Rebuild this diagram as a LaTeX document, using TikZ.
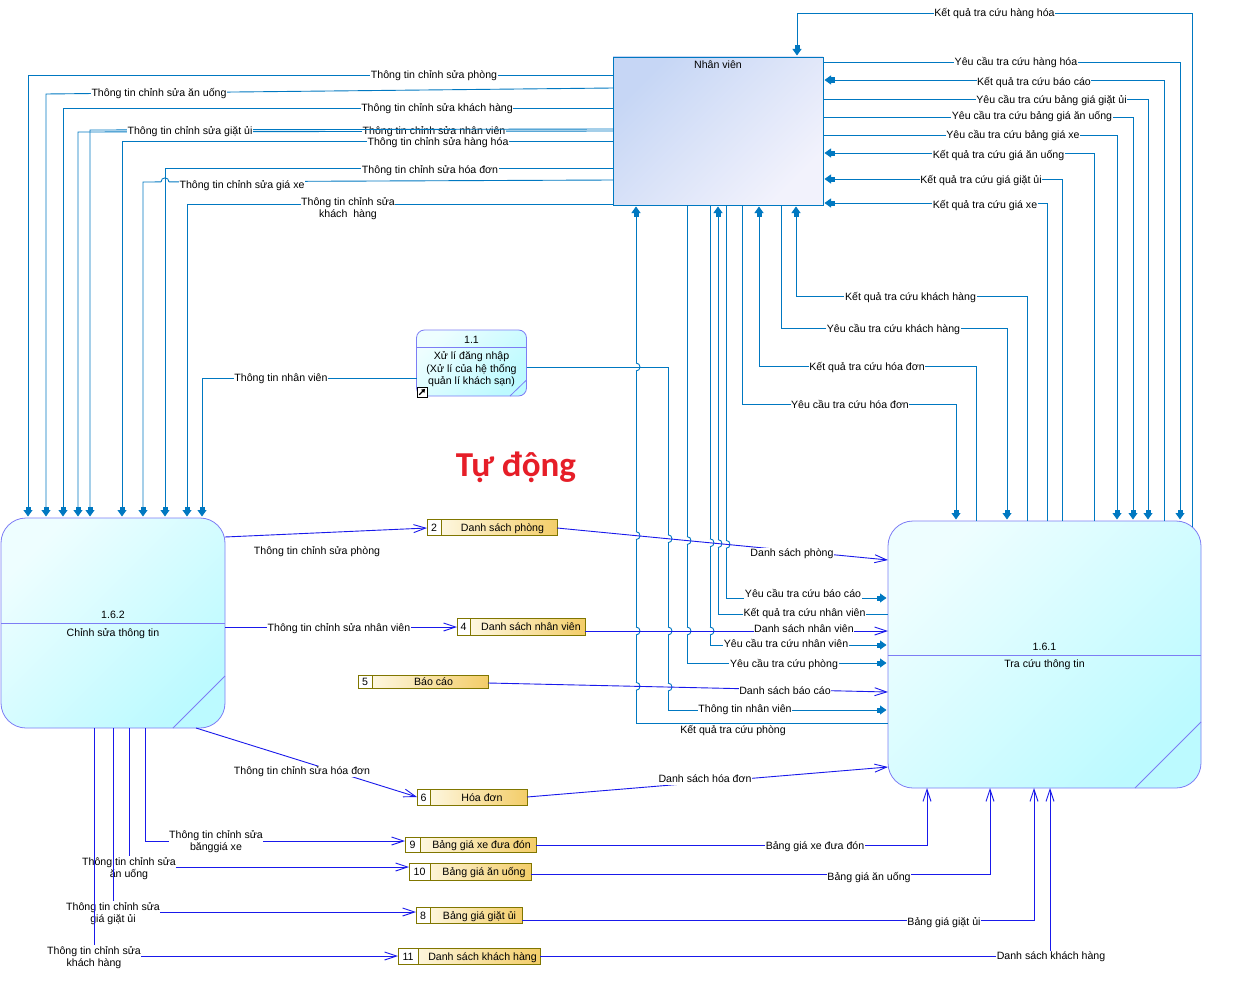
\documentclass[tikz,border=0pt]{standalone}
\usepackage{fontspec}
\setmainfont{Liberation Sans}
\newfontfamily\carlito{Carlito}
\usetikzlibrary{arrows.meta,calc}
\definecolor{tealc}{RGB}{0,120,193}
\definecolor{bluec}{RGB}{25,25,235}
\definecolor{procb}{RGB}{125,125,245}
\definecolor{pc1}{RGB}{238,254,255}
\definecolor{pc2}{RGB}{188,250,255}
\definecolor{nvc1}{RGB}{198,214,245}
\definecolor{nvc2}{RGB}{242,242,252}
\definecolor{storeb}{RGB}{128,118,0}
\definecolor{sc1}{RGB}{255,252,238}
\definecolor{sc2}{RGB}{243,205,105}
\definecolor{redt}{RGB}{230,30,40}
\newcommand{\lblfont}{\fontsize{10.6}{12.4}\selectfont}
\newcommand{\mystore}[8]{%
  \node[store, minimum width={#4-#2}, minimum height={#5-#3}] (#1) at ({(#2+#4)/2},{(#3+#5)/2}) {};
  \fill[white] (#2,#3) rectangle (#6,#5);
  \draw[storeb, line width=0.8pt] (#2,#3) rectangle (#4,#5) (#6,#3) -- (#6,#5);
  \node[txt] (#1n) at ({(#2+#6)/2},{(#3+#5)/2}) {#7};
  \node[txt] (#1t) at ({(#6+#4)/2+3.5},{(#3+#5)/2}) {#8};
}
\newcommand{\vbump}[2]{%
  \fill[white] ({#1-1.6},{#2-4}) rectangle ({#1+1.6},{#2+4});
  \draw[tl] (#1,{#2-4}) .. controls ({#1+5.3},{#2-4}) and ({#1+5.3},{#2+4}) .. (#1,{#2+4});
}
\newcommand{\hbump}[2]{%
  \fill[white] ({#1-4},{#2-1.6}) rectangle ({#1+4},{#2+1.6});
  \draw[tl] ({#1-4},#2) .. controls ({#1-4},{#2-5.3}) and ({#1+4},{#2-5.3}) .. ({#1+4},#2);
}
\begin{document}
\begin{tikzpicture}[x=1pt,y=-1pt,
  txt/.style={font=\lblfont, inner sep=0.6pt, text height=7.6pt, text depth=2.2pt, yshift=-1.3pt},
  lbl/.style={txt, fill=white},
  txt2/.style={font=\lblfont, inner sep=0.6pt, align=center, yshift=-1.3pt},
  lbl2/.style={txt2, fill=white},
  tl/.style={draw=tealc, line width=0.9pt},
  tla/.style={tl, shorten >=1.5pt, -{Rectangle[length=3.5pt,width=5pt]Triangle[length=6.5pt,width=9pt]}},
  bl/.style={draw=bluec, line width=0.9pt},
  bla/.style={bl, -{Straight Barb[length=12pt,width=8pt]}},
  proc/.style={rectangle, draw=procb, line width=0.8pt, top color=pc1, bottom color=pc2, shading angle=45, inner sep=0pt, outer sep=0pt},
  nvbox/.style={rectangle, draw=tealc, line width=0.9pt, top color=nvc1, bottom color=nvc2, shading angle=45, inner sep=0pt, outer sep=0pt},
  store/.style={rectangle, draw=storeb, line width=0.8pt, left color=sc1, right color=sc2, inner sep=0pt, outer sep=0pt},
  pline/.style={draw=procb, line width=0.8pt},
]
\useasboundingbox (0,0) rectangle (1243,998);
\fill[white] (0,0) rectangle (1243,998);

% ---------- boxes ----------
\node[nvbox, minimum width=210pt, minimum height=148pt] (nv) at (718,131) {};
\node[txt] (nvt) at (718,65) {Nhân viên};

\node[proc, rounded corners=25pt, minimum width=224pt, minimum height=210pt] (p162) at (113,623) {};
\draw[pline] (p162.west |- 0,623) -- (p162.east |- 0,623);
\draw[pline] (p162.south -| 173,0) -- (p162.east |- 0,676);
\node[txt] (p162n) at (113,614) {1.6.2};
\node[txt] (p162t) at (113,632) {Chỉnh sửa thông tin};

\node[proc, rounded corners=25pt, minimum width=313pt, minimum height=267pt] (p161) at (1044.5,654.5) {};
\draw[pline] (p161.west |- 0,655) -- (p161.east |- 0,655);
\draw[pline] (p161.south -| 1135,0) -- (p161.east |- 0,722);
\node[txt] (p161n) at (1044.5,646) {1.6.1};
\node[txt] (p161t) at (1044.5,663) {Tra cứu thông tin};

\node[proc, rounded corners=8pt, minimum width=110pt, minimum height=66pt] (p11) at (471.5,363) {};
\draw[pline] (p11.west |- 0,347) -- (p11.east |- 0,347);
\draw[pline] (p11.south -| 510,0) -- (p11.east |- 0,380);
\node[txt] (p11n) at (471.5,339) {1.1};
\node[txt2] (p11t) at (471.5,368) {Xử lí đăng nhập\\(Xử lí của hệ thống\\quản lí khách sạn)};
\node[draw=black, fill=white, line width=0.6pt, minimum size=10pt, inner sep=0pt] (sc) at (422,392) {};
\draw[line width=1.2pt, -{Triangle[length=3.5pt,width=4.5pt]}] ($(sc.south west)+(2.5,-2.5)$) -- ($(sc.north east)+(-2.2,2.2)$);

\mystore{s2}{427}{519}{557}{535}{441}{2}{Danh sách phòng}
\mystore{s4}{457}{618}{585}{635}{470}{4}{Danh sách nhân viên}
\mystore{s5}{358}{675}{488}{688}{372}{5}{Báo cáo}
\mystore{s6}{417}{789}{527}{805}{430}{6}{Hóa đơn}
\mystore{s9}{405}{837}{536}{852}{420}{9}{Bảng giá xe đưa đón}
\mystore{s10}{409}{863}{531}{880}{430}{10}{Bảng giá ăn uống}
\mystore{s8}{416}{907}{522}{923}{430}{8}{Bảng giá giặt ủi}
\mystore{s11}{398}{948}{540}{964}{418}{11}{Danh sách khách hàng}

\node[font=\carlito\bfseries\fontsize{35}{40}\selectfont, text=redt, inner sep=0pt] (auto) at (516,467) {Tự động};

% ---------- Nhan vien right side ----------
\draw[tla] (nv.east |- 0,62) -| (p161.north -| 1180,0);
\node[lbl] (l01) at (1016,62) {Yêu cầu tra cứu hàng hóa};
\draw[tla] (p161.north -| 1164,0) |- (nv.east |- 0,80);
\node[lbl] (l02) at (1034,81) {Kết quả tra cứu báo cáo};
\draw[tla] (nv.east |- 0,99) -| (p161.north -| 1148,0);
\node[lbl] (l03) at (1051.5,99) {Yêu cầu tra cứu bảng giá giặt ủi};
\draw[tla] (nv.east |- 0,117) -| (p161.north -| 1133,0);
\node[lbl] (l04) at (1032,116) {Yêu cầu tra cứu bảng giá ăn uống};
\draw[tla] (nv.east |- 0,135) -| (p161.north -| 1117,0);
\node[lbl] (l05) at (1013,135) {Yêu cầu tra cứu bảng giá xe};
\draw[tla] (p161.north -| 1094,0) |- (nv.east |- 0,153);
\node[lbl] (l06) at (998.5,154) {Kết quả tra cứu giá ăn uống};
\draw[tla] (p161.north -| 1062,0) |- (nv.east |- 0,179);
\node[lbl] (l07) at (981,179) {Kết quả tra cứu giá giặt ủi};
\draw[tla] (p161.north -| 1047,0) |- (nv.east |- 0,203);
\node[lbl] (l08) at (985,204) {Kết quả tra cứu giá xe};
\coordinate (hhs) at (1192,527);
\draw[tla] (hhs) |- (797,13) -- (nv.north -| 797,0);
\node[lbl] (l09) at (994.5,13) {Kết quả tra cứu hàng hóa};

% ---------- Nhan vien bottom ----------
\draw[tla] (nv.south -| 742,0) -- (742,404) -| (p161.north -| 956,0);
\node[lbl] (l10) at (850,404) {Yêu cầu tra cứu hóa đơn};
\draw[tla] (p161.north -| 976,0) -- (976,366) -| (nv.south -| 759,0);
\node[lbl] (l11) at (867,366) {Kết quả tra cứu hóa đơn};
\draw[tla] (nv.south -| 781,0) -- (781,328) -| (p161.north -| 1007,0);
\node[lbl] (l12) at (893.5,328) {Yêu cầu tra cứu khách hàng};
\draw[tla] (p161.north -| 1027,0) -- (1027,296) -| (nv.south -| 796,0);
\node[lbl] (l13) at (910.5,296) {Kết quả tra cứu khách hàng};

\draw[tla] (p161.west |- 0,723) -| (nv.south -| 636,0);
\vbump{636}{367}
\draw[tla] (p11.east |- 0,367) -| (668,710) -- (p161.west |- 0,710);
\draw[tla] (nv.south -| 687,0) |- (p161.west |- 0,663);
\draw[tla] (nv.south -| 710,0) |- (p161.west |- 0,645);
\draw[tla] (p161.west |- 0,614) -| (nv.south -| 718,0);
\draw[tla] (nv.south -| 726,0) |- (p161.west |- 0,598);
\node[txt] (l14) at (733,729) {Kết quả tra cứu phòng};
\node[lbl] (l15) at (745,708) {Thông tin nhân viên};
\node[lbl] (l16) at (784,663) {Yêu cầu tra cứu phòng};
\node[lbl] (l17) at (786,643) {Yêu cầu tra cứu nhân viên};
\node[lbl] (l18) at (804.5,612) {Kết quả tra cứu nhân viên};
\node[lbl] (l19) at (803,593) {Yêu cầu tra cứu báo cáo};

% ---------- Nhan vien left side ----------
\draw[tla] (nv.west |- 0,75) -| (p162.north -| 28,0);
\node[lbl] (l20) at (434,75) {Thông tin chỉnh sửa phòng};
\draw[tla] (nv.west |- 0,88) -- (46,94) -- (p162.north -| 46,0);
\node[lbl] (l21) at (159,92.5) {Thông tin chỉnh sửa ăn uống};
\draw[tla] (nv.west |- 0,108) -| (p162.north -| 63,0);
\node[lbl] (l22) at (437,107) {Thông tin chỉnh sửa khách hàng};
\draw[tla] (nv.west |- 0,131) -- (78,132) -- (p162.north -| 78,0);
\node[lbl] (l23) at (434,131) {Thông tin chỉnh sửa nhân viên};
\draw[tla] (nv.west |- 0,129) -- (90,130) -- (p162.north -| 90,0);
\node[lbl] (l24) at (190,130) {Thông tin chỉnh sửa giặt ủi};
\draw[tla] (nv.west |- 0,141) -| (p162.north -| 122,0);
\node[lbl] (l25) at (438,141.5) {Thông tin chỉnh sửa hàng hóa};
\draw[tla] (nv.west |- 0,180) -- (143,182) -- (p162.north -| 143,0);
\hbump{165}{181.9}
\draw[tla] (nv.west |- 0,168) -| (p162.north -| 165,0);
\node[lbl] (l26) at (430,169.5) {Thông tin chỉnh sửa hóa đơn};
\node[lbl] (l27) at (242,184.5) {Thông tin chỉnh sửa giá xe};
\draw[tla] (nv.west |- 0,204) -| (p162.north -| 187,0);
\node[lbl2] (l28) at (348,207) {Thông tin chỉnh sửa\\khách\ \ hàng};
\draw[tla] (p11.west |- 0,378) -| (p162.north -| 202,0);
\node[lbl] (l29) at (281,377.5) {Thông tin nhân viên};

% ---------- line jumps ----------
\vbump{636}{535.64}
\vbump{668}{538.73}
\vbump{687}{540.57}
\vbump{710}{542.79}
\vbump{718}{543.57}
\vbump{726}{544.34}
\vbump{636}{631}
\vbump{668}{631}
\vbump{687}{631}
\vbump{710}{631}
\vbump{636}{686.33}
\vbump{668}{687.05}

% ---------- blue flows ----------
\draw[bla] (p162.east |- 0,537) -- (s2.west |- 0,528);
\node[txt] (l30) at (317,550) {Thông tin chỉnh sửa phòng};
\draw[bla] (p162.east |- 0,627) -- (s4.west |- 0,627);
\node[lbl] (l31) at (339,627) {Thông tin chỉnh sửa nhân viên};
\draw[bla] (p162.south -| 196,0) -- (s6.west |- 0,797);
\node[lbl] (l32) at (302,770) {Thông tin chỉnh sửa hóa đơn};
\draw[bla] (p162.south -| 145,0) |- (s9.west |- 0,841);
\node[lbl2] (l33) at (216,840) {Thông tin chỉnh sửa\\bănggiá xe};
\draw[bla] (p162.south -| 129,0) |- (s10.west |- 0,867);
\node[lbl2] (l34) at (129,867) {Thông tin chỉnh sửa\\ăn uống};
\draw[bla] (p162.south -| 113,0) |- (s8.west |- 0,912);
\node[lbl2] (l35) at (113,912) {Thông tin chỉnh sửa\\giá giặt ủi};
\draw[bla] (p162.south -| 94,0) |- (s11.west |- 0,956);
\node[lbl2] (l36) at (94,956) {Thông tin chỉnh sửa\\khách hàng};

\draw[bla] (s2.east |- 0,528) -- (p161.west |- 0,560);
\node[lbl] (l37) at (792,552) {Danh sách phòng};
\draw[bla] (s4.east |- 0,631) -- (p161.west |- 0,631);
\node[lbl] (l38) at (804,628.5) {Danh sách nhân viên};
\draw[bla] (s5.east |- 0,683) -- (p161.west |- 0,692);
\node[lbl] (l39) at (785,690) {Danh sách báo cáo};
\draw[bla] (s6.east |- 0,797) -- (p161.west |- 0,767);
\node[lbl] (l40) at (705,778) {Danh sách hóa đơn};
\draw[bla] (s9.east |- 0,845) -| (p161.south -| 927,0);
\node[lbl] (l41) at (815,845) {Bảng giá xe đưa đón};
\draw[bla] (s10.east |- 0,874) -| (p161.south -| 990,0);
\node[lbl] (l42) at (869,876) {Bảng giá ăn uống};
\draw[bla] (s8.east |- 0,920) -| (p161.south -| 1034,0);
\node[lbl] (l43) at (944,921) {Bảng giá giặt ủi};
\draw[bla] (s11.east |- 0,956) -| (p161.south -| 1050,0);
\node[lbl] (l44) at (1051,955) {Danh sách khách hàng};
\end{tikzpicture}
\end{document}
